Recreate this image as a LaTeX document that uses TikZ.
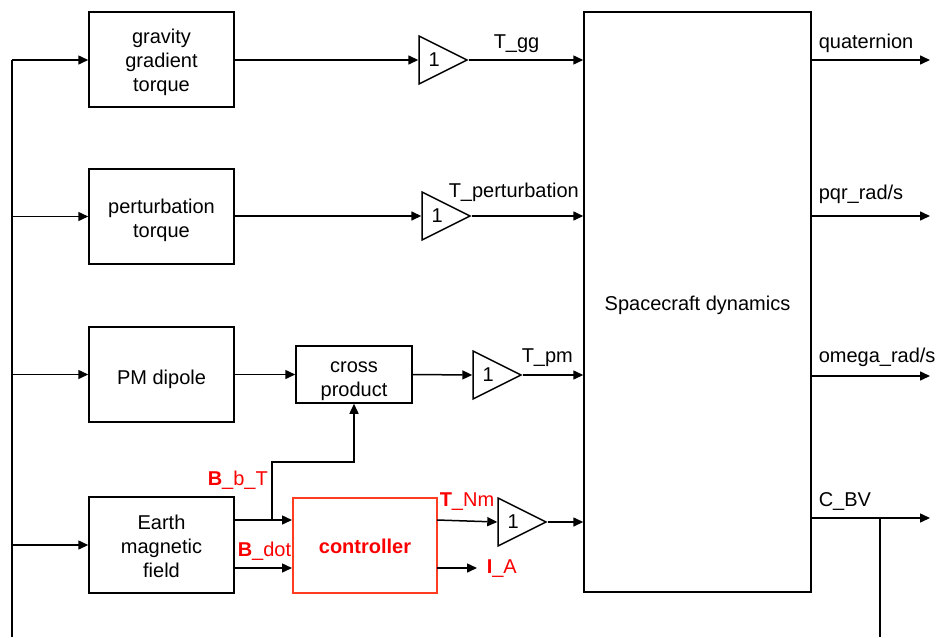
\documentclass[tikz,border=0pt]{standalone}
\usepackage{fontspec}
\setmainfont{Liberation Sans}
\usetikzlibrary{arrows.meta,shapes.geometric}
\definecolor{ctrlred}{RGB}{255,59,32}
\definecolor{lblred}{RGB}{250,0,0}
\newcommand\dnshift[2]{\raisebox{-#1}[\height][\depth]{\begin{tabular}{@{}c@{}}#2\end{tabular}}}
\begin{document}
\begin{tikzpicture}[x=0.5pt,y=-0.5pt,
  line width=0.75pt,
  font=\fontsize{10}{12}\selectfont,
  blk/.style={draw, line width=0.75pt, align=center, inner sep=0pt},
  gain/.style={draw, isosceles triangle, isosceles triangle stretches, minimum width=24pt, minimum height=24pt, inner sep=0pt, anchor=apex},
  arr/.style={-{Triangle[length=5pt,width=4.5pt]}},
  sig/.style={inner sep=0pt, anchor=west},
  redsig/.style={sig, text=lblred}
]
\useasboundingbox (0,0) rectangle (936,637);

% blocks
\node[blk, minimum width=72.5pt, minimum height=47.5pt] (gg) at (161.5,59.5) {\dnshift{1.5pt}{gravity\\gradient\\torque}};
\node[blk, minimum width=72.5pt, minimum height=47.5pt] (pt) at (161.5,216.5) {\dnshift{2pt}{perturbation\\torque}};
\node[blk, minimum width=72.5pt, minimum height=47.5pt] (pm) at (161.5,374.5) {\dnshift{2.5pt}{PM dipole}};
\node[blk, minimum width=72.5pt, minimum height=48pt] (em) at (161.5,545) {\dnshift{2pt}{Earth\\magnetic\\field}};
\node[blk, minimum width=58pt, minimum height=28.5pt] (cp) at (354,374.5) {\dnshift{2.5pt}{cross\\product}};
\node[blk, draw=ctrlred, line width=1pt, minimum width=72pt, minimum height=47.5pt, text=lblred, font=\fontsize{10}{12}\selectfont\bfseries] (ctrl) at (365,545.5) {\dnshift{1.5pt}{controller}};
\node[blk, minimum width=113.5pt, minimum height=290pt] (sc) at (697.5,302) {\dnshift{2pt}{Spacecraft dynamics}};

% gains
\node[gain] (g1) at (469,60) {};
\node[gain] (g2) at (472,216) {};
\node[gain] (g3) at (523,375) {};
\node[gain] (g4) at (548,522) {};
\node[inner sep=0pt] (g1t) at ([xshift=8pt]g1.west) {1};
\node[inner sep=0pt] (g2t) at ([xshift=8pt]g2.west) {1};
\node[inner sep=0pt] (g3t) at ([xshift=8pt]g3.west) {1};
\node[inner sep=0pt] (g4t) at ([xshift=8pt]g4.west) {1};

% left bus
\coordinate (bustop) at (12,60);
\coordinate (busbot) at (12,637);
\draw (bustop) -- (busbot);
\draw[arr] (bustop) -- (gg.west|-bustop);
\draw[arr] (bustop|-pt.west) -- (pt.west);
\draw[arr] (bustop|-pm.west) -- (pm.west);
\draw[arr] (bustop|-em.west) -- (em.west);

% forward paths
\draw[arr] (gg.east|-g1.west) -- (g1.west);
\draw[arr] (g1.apex) -- (sc.west|-g1.apex);
\draw[arr] (pt.east|-g2.west) -- (g2.west);
\draw[arr] (g2.apex) -- (sc.west|-g2.apex);
\draw[arr] (pm.east) -- (cp.west);
\draw[arr] (cp.east) -- (g3.west);
\draw[arr] (g3.apex) -- (sc.west|-g3.apex);

% Earth field to controller
\coordinate (bbt) at (234,520);
\coordinate (bdot) at (234,568);
\coordinate (jn) at (272,520);
\draw[arr] (bbt) -- (ctrl.west|-bbt);
\draw[arr] (bdot) -- (ctrl.west|-bdot);
\draw[arr] (jn) -- (272,462) -- (cp.south|-{(0,462)}) -- (cp.south);

% controller outputs
\coordinate (tnm) at (437,520);
\coordinate (ia) at (437,568);
\coordinate (iaend) at (477,568);
\draw[arr] (tnm) -- (g4.west);
\draw[arr] (g4.apex) -- (sc.west|-g4.apex);
\draw[arr] (ia) -- (iaend);

% outputs of dynamics
\coordinate (o1) at (930,60);
\coordinate (o2) at (930,216);
\coordinate (o3) at (930,376);
\coordinate (o4) at (930,518);
\coordinate (cbvbot) at (880,637);
\draw[arr] (sc.east|-o1) -- (o1);
\draw[arr] (sc.east|-o2) -- (o2);
\draw[arr] (sc.east|-o3) -- (o3);
\draw[arr] (sc.east|-o4) -- (o4);
\draw (880,518) -- (cbvbot);

% labels
\node[sig] (lgg) at (493,44) {T\_gg};
\node[sig] (lpt) at (448,192) {T\_perturbation};
\node[sig] (lpm) at (521,358) {T\_pm};
\node[redsig] (ltnm) at (439,502) {\textbf{T}\_Nm};
\node[redsig] (lbbt) at (207,480) {\textbf{B}\_b\_T};
\node[redsig] (lbdot) at (237,551) {\textbf{B}\_dot};
\node[redsig] (lia) at (486,569) {\textbf{I}\_A};
\node[sig] (lq) at (818,43) {quaternion};
\node[sig] (lpqr) at (818,194) {pqr\_rad/s};
\node[sig] (lom) at (818,357) {omega\_rad/s};
\node[sig] (lcbv) at (818,501) {C\_BV};
\end{tikzpicture}
\end{document}
